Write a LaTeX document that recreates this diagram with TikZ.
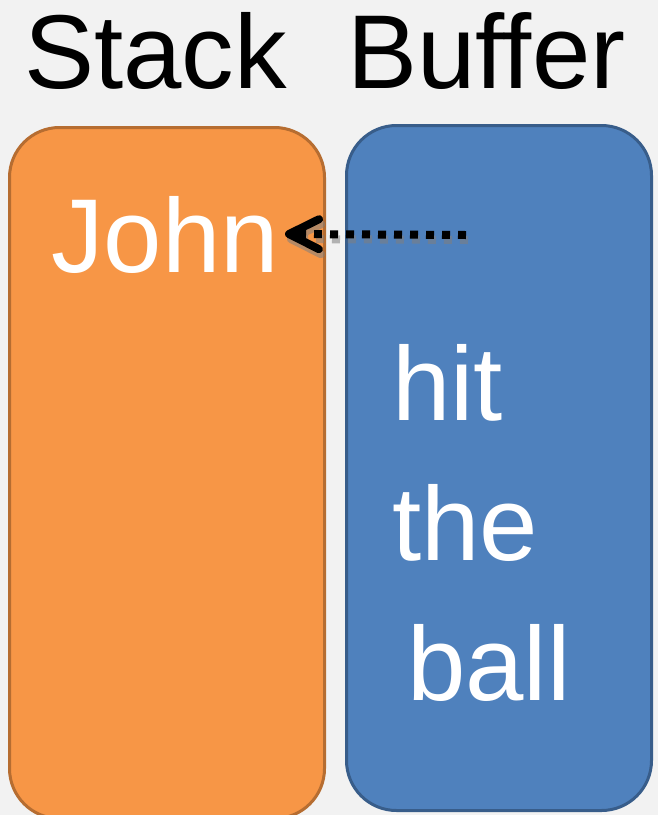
\documentclass[tikz,border=0pt]{standalone}
\usepackage{fontspec}
\setmainfont{Liberation Sans}
\usetikzlibrary{arrows.meta,positioning}
\definecolor{cbg}{HTML}{F2F2F2}
\definecolor{cstack}{HTML}{F79646}
\definecolor{cstackline}{HTML}{B66D31}
\definecolor{cbuffer}{HTML}{4F81BD}
\definecolor{cbufferline}{HTML}{385D8A}
\definecolor{cshadow}{HTML}{7F7F7F}

\begin{document}
\begin{tikzpicture}[
    x=1pt, y=-1pt,
    bigtext/.style={font=\fontsize{105}{120}\selectfont, anchor=base west, inner sep=0pt},
    wordtext/.style={bigtext, text=white},
    column/.style={rounded corners=50pt, line width=3pt, inner sep=0pt},
    shiftarrow/.style={-{Straight Barb[length=30pt,width=30pt,line width=8pt,round]},
        line width=8pt, dash pattern=on 8pt off 8pt},
]

% ============================================================
% BACKGROUND
% ============================================================
\fill[cbg] (0,0) rectangle (658,815);
\useasboundingbox (0,0) rectangle (658,815);

% ============================================================
% HEADERS
% ============================================================
\node[bigtext] (stackhead) at (24,88) {Stack};
\node[bigtext] (bufferhead) at (347,88) {Buffer};

% ============================================================
% COLUMNS
% ============================================================
\node[column, draw=cstackline, fill=cstack,
    minimum width=315pt, minimum height=691pt] (stack) at (167,473) {};
\node[column, draw=cbufferline, fill=cbuffer,
    minimum width=305pt, minimum height=685pt] (buffer) at (499,468) {};

% ============================================================
% WORDS
% ============================================================
\node[wordtext] (john) at (51,272) {John};
\node[wordtext] (hit) at (392,420) {hit};
\node[wordtext] (the) at (392,560) {the};
\node[wordtext] (ball) at (407,700) {ball};

% ============================================================
% SHIFT ARROW
% ============================================================
\coordinate (src) at (466,235);
\coordinate (srcshadow) at (468,240);
\coordinate (dst) at (285,234);
\coordinate (dstshadow) at (287,239);

\draw[shiftarrow, cshadow, opacity=0.55] (srcshadow) -- (dstshadow);
\draw[shiftarrow, black] (src) -- (dst);

\end{tikzpicture}
\end{document}
